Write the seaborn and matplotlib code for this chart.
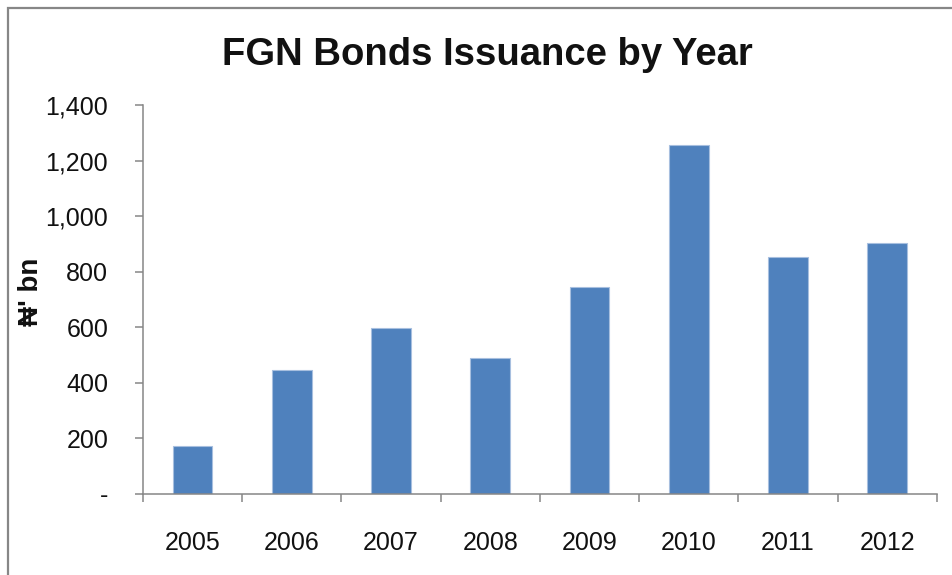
import numpy as np
import pandas as pd
import matplotlib
matplotlib.use("Agg")
import matplotlib.pyplot as plt
from matplotlib.patches import Rectangle
from matplotlib.ticker import FuncFormatter, FixedLocator
import seaborn as sns

# FGN bond issuance per year, in billions of naira
years = ["2005", "2006", "2007", "2008", "2009", "2010", "2011", "2012"]
issuance_bn = [174, 446, 596, 488, 746, 1256, 854, 904]
y_ticks = [0, 200, 400, 600, 800, 1000, 1200, 1400]

title_text = "FGN Bonds Issuance by Year"
y_label = "\u20a6' bn"

sns.set_theme(style="white")
plt.rcParams["font.family"] = ["Liberation Sans", "DejaVu Sans"]

df = pd.DataFrame({"year": years, "value": issuance_bn})

fig = plt.figure(figsize=(9.53, 5.75), dpi=100)
ax = fig.add_axes([0.150, 0.141, 0.833, 0.676])

sns.barplot(data=df, x="year", y="value", color="#4F81BD", width=0.4,
            edgecolor="#A7BFDF", linewidth=0.8, saturation=1, ax=ax)

axis_grey = "#868686"
ax.set_xlim(-0.5, len(years) - 0.5)
ax.set_ylim(0, 1400)

# y axis: thousands separators, dash for zero
ax.yaxis.set_major_locator(FixedLocator(y_ticks))
ax.yaxis.set_major_formatter(FuncFormatter(lambda v, p: "-" if v == 0 else f"{v:,.0f}"))
ax.tick_params(axis="y", which="major", direction="out", length=6, width=1.1,
               color=axis_grey, labelsize=18, labelcolor="#111111", pad=19, left=True)

# x axis: tick marks between categories, labels centred on bars
ax.set_xticks(np.arange(-0.5, len(years), 1.0))
ax.set_xticklabels([])
ax.set_xticks(np.arange(len(years)), minor=True)
ax.set_xticklabels(years, minor=True)
ax.tick_params(axis="x", which="major", direction="out", length=6, width=1.1,
               color=axis_grey, bottom=True)
ax.tick_params(axis="x", which="minor", length=0, labelsize=18,
               labelcolor="#111111", pad=27)

for side in ("top", "right"):
    ax.spines[side].set_visible(False)
for side in ("left", "bottom"):
    ax.spines[side].set_color(axis_grey)
    ax.spines[side].set_linewidth(1.1)

ax.set_xlabel("")
ax.set_ylabel("")
fig.text(0.033, 0.493, y_label, rotation=90, ha="center", va="center",
         fontsize=20, fontweight="bold", color="#111111")
fig.text(0.511, 0.904, title_text, ha="center", va="center",
         fontsize=27.5, fontweight="bold", color="#111111")

# chart frame
fig.patches.append(Rectangle((8.5 / 953, -0.05), 1.2, 1 - 7.5 / 575 + 0.05,
                             transform=fig.transFigure, fill=False,
                             edgecolor="#878787", linewidth=1.6))

fig.savefig("out.png", dpi=100, facecolor="white")
